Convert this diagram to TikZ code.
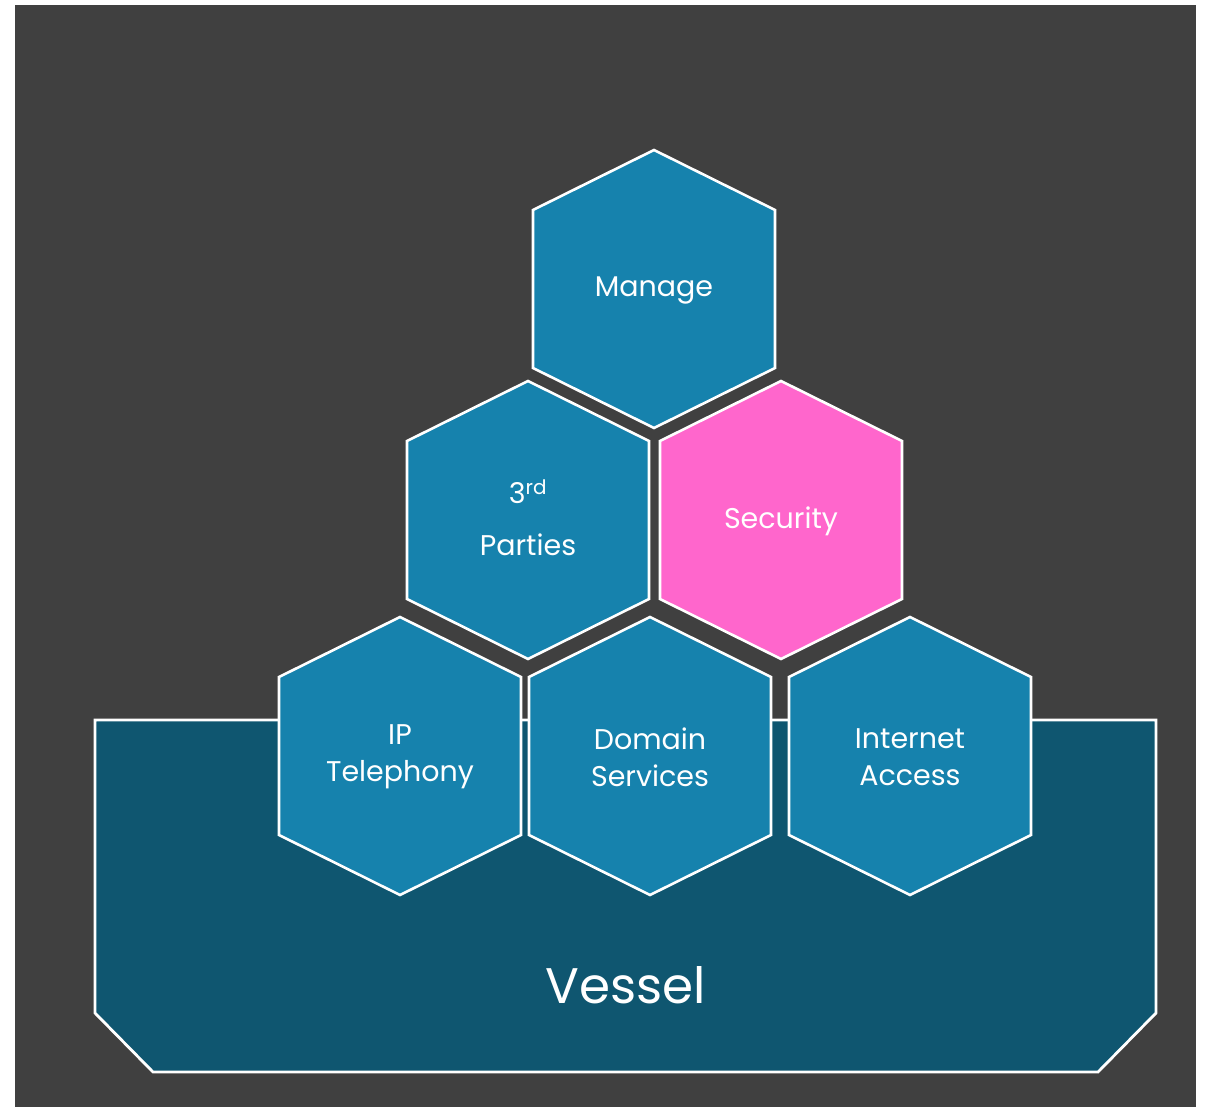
\documentclass[tikz,border=0pt]{standalone}
\usepackage{fontspec}
\setmainfont{Poppins}
\begin{document}
\begin{tikzpicture}[x=1pt,y=-1pt,
  hexbox/.style={fill=hexteal,draw=white,line width=2.6pt,line join=miter},
  hextext/.style={text=white,align=center,font=\fontsize{28.5}{37}\selectfont},
  vesselbox/.style={fill=vesselteal,draw=white,line width=2.8pt}]
\definecolor{bgdark}{HTML}{404040}
\definecolor{hexteal}{HTML}{1682AD}
\definecolor{vesselteal}{HTML}{0F5670}
\definecolor{pinkhex}{HTML}{FF66CC}
\useasboundingbox (0,0) rectangle (1210,1107);
\fill[bgdark] (15,5) rectangle (1196,1107);
% vessel
\draw[vesselbox] (95,720) -- (1156,720) -- (1156,1013) -- (1098,1072) -- (153,1072) -- (95,1013) -- cycle;
\node[text=white,font=\fontsize{50}{60}\selectfont] (vessel) at (626,985) {Vessel};
\newcommand\hexat[3]{\filldraw[hexbox,#3] (#1,#2-139) -- (#1+121,#2-79) -- (#1+121,#2+79) -- (#1,#2+139) -- (#1-121,#2+79) -- (#1-121,#2-79) -- cycle;}
\hexat{654}{289}{}
\hexat{528}{520}{}
\hexat{781}{520}{fill=pinkhex}
\hexat{400}{756}{}
\hexat{650}{756}{}
\hexat{910}{756}{}
\node[hextext] (manage) at (654,290) {Manage};
\node[hextext,font=\fontsize{28.5}{52}\selectfont] (parties) at (528,518) {3\textsuperscript{rd}\\Parties};
\node[hextext] (security) at (781,521) {Security};
\node[hextext] (ip) at (400,757) {IP\\Telephony};
\node[hextext] (domain) at (650,757) {Domain\\Services};
\node[hextext] (internet) at (910,757) {Internet\\Access};
\end{tikzpicture}
\end{document}
